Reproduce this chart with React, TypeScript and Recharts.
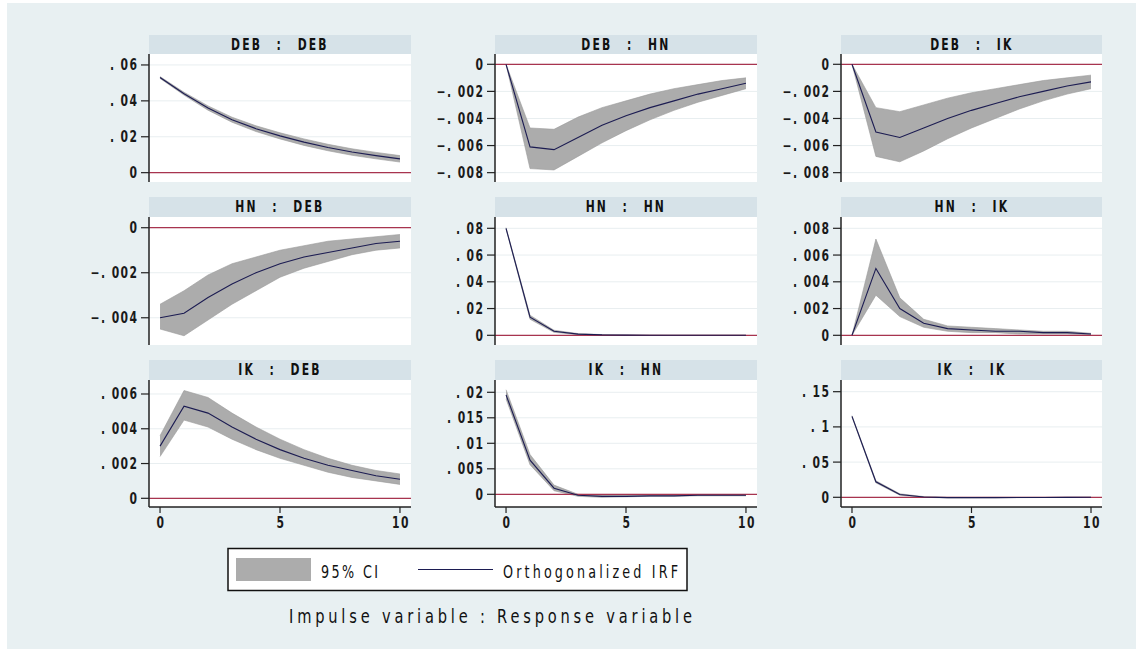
import React from "react";
import {
  ComposedChart,
  Area,
  Line,
  XAxis,
  YAxis,
  CartesianGrid,
  ReferenceLine,
} from "recharts";

// ---------- data ----------
const steps = [0, 1, 2, 3, 4, 5, 6, 7, 8, 9, 10];
const xTicks = [0, 5, 10];
const xTickLabels = ["0", "5", "10"];

const debDebIrf = [0.053, 0.044, 0.036, 0.0295, 0.0245, 0.0205, 0.017, 0.014, 0.0115, 0.0095, 0.0077];
const debDebLo = [0.0525, 0.0432, 0.0348, 0.0281, 0.0229, 0.0188, 0.0152, 0.0122, 0.0097, 0.0077, 0.0059];
const debDebHi = [0.0535, 0.0448, 0.0372, 0.0309, 0.0261, 0.0222, 0.0188, 0.0158, 0.0133, 0.0113, 0.0095];

const debHnIrf = [0, -0.0061, -0.0063, -0.0054, -0.0045, -0.0038, -0.0032, -0.0027, -0.0022, -0.0018, -0.0014];
const debHnLo = [0, -0.0077, -0.0078, -0.0068, -0.0058, -0.0049, -0.0041, -0.0034, -0.0028, -0.0023, -0.0018];
const debHnHi = [0, -0.0047, -0.0048, -0.0039, -0.0032, -0.0027, -0.0022, -0.0018, -0.0015, -0.0012, -0.001];

const debIkIrf = [0, -0.005, -0.0054, -0.0047, -0.004, -0.0034, -0.0029, -0.0024, -0.002, -0.0016, -0.0013];
const debIkLo = [0, -0.0068, -0.0072, -0.0064, -0.0055, -0.0047, -0.004, -0.0033, -0.0027, -0.0022, -0.0018];
const debIkHi = [0, -0.0032, -0.0035, -0.003, -0.0025, -0.0021, -0.0018, -0.0015, -0.0012, -0.001, -0.0008];

const hnDebIrf = [-0.004, -0.0038, -0.0031, -0.0025, -0.002, -0.0016, -0.0013, -0.0011, -0.0009, -0.0007, -0.0006];
const hnDebLo = [-0.0045, -0.0048, -0.0041, -0.0034, -0.0028, -0.0022, -0.0018, -0.0015, -0.0012, -0.001, -0.0009];
const hnDebHi = [-0.0034, -0.0028, -0.0021, -0.0016, -0.0013, -0.001, -0.0008, -0.0006, -0.0005, -0.0004, -0.0003];

const hnHnIrf = [0.08, 0.0135, 0.003, 0.0009, 0.0003, 0.0001, 0, 0, 0, 0, 0];
const hnHnLo = [0.0795, 0.012, 0.0022, 0.0005, 0.0001, 0, 0, 0, 0, 0, 0];
const hnHnHi = [0.0805, 0.015, 0.0038, 0.0013, 0.0005, 0.0002, 0.0001, 0, 0, 0, 0];

const hnIkIrf = [0, 0.005, 0.002, 0.0009, 0.0005, 0.0004, 0.0003, 0.0003, 0.0002, 0.0002, 0.0001];
const hnIkLo = [0, 0.003, 0.0014, 0.0006, 0.0003, 0.0002, 0.0002, 0.0001, 0.0001, 0.0001, 0.00005];
const hnIkHi = [0, 0.0072, 0.0028, 0.0012, 0.0007, 0.0006, 0.0005, 0.0004, 0.0003, 0.0003, 0.00015];

const ikDebIrf = [0.003, 0.0053, 0.0049, 0.0041, 0.0034, 0.0028, 0.0023, 0.0019, 0.0016, 0.0013, 0.0011];
const ikDebLo = [0.0024, 0.0045, 0.0041, 0.0034, 0.0028, 0.0023, 0.0019, 0.0015, 0.0012, 0.001, 0.0008];
const ikDebHi = [0.0036, 0.0062, 0.0058, 0.0049, 0.0041, 0.0034, 0.0028, 0.0023, 0.0019, 0.0016, 0.0014];

const ikHnIrf = [0.0195, 0.0067, 0.0012, -0.0002, -0.0004, -0.0004, -0.0003, -0.0003, -0.0002, -0.0002, -0.0002];
const ikHnLo = [0.0187, 0.0058, 0.0007, -0.0004, -0.0006, -0.0005, -0.0004, -0.0004, -0.0003, -0.0003, -0.0003];
const ikHnHi = [0.0205, 0.0078, 0.0018, 0, -0.0002, -0.0002, -0.0002, -0.0002, -0.0001, -0.0001, -0.0001];

const ikIkIrf = [0.115, 0.022, 0.004, 0.0005, -0.0005, -0.0005, -0.0004, -0.0003, -0.0002, -0.0001, 0];
const ikIkLo = [0.114, 0.0205, 0.003, 0, -0.0009, -0.0008, -0.0007, -0.0005, -0.0003, -0.0002, -0.0001];
const ikIkHi = [0.116, 0.0235, 0.005, 0.001, -0.0001, -0.0002, -0.0001, -0.0001, 0, 0, 0];

const debDebTicks = [0.06, 0.04, 0.02, 0];
const debDebTickLabels = [". 06", ". 04", ". 02", "0"];
const negSmallTicks = [0, -0.002, -0.004, -0.006, -0.008];
const negSmallTickLabels = ["0", "−. 002", "−. 004", "−. 006", "−. 008"];
const hnDebTicks = [0, -0.002, -0.004];
const hnDebTickLabels = ["0", "−. 002", "−. 004"];
const hnHnTicks = [0.08, 0.06, 0.04, 0.02, 0];
const hnHnTickLabels = [". 08", ". 06", ". 04", ". 02", "0"];
const hnIkTicks = [0.008, 0.006, 0.004, 0.002, 0];
const hnIkTickLabels = [". 008", ". 006", ". 004", ". 002", "0"];
const ikDebTicks = [0.006, 0.004, 0.002, 0];
const ikDebTickLabels = [". 006", ". 004", ". 002", "0"];
const ikHnTicks = [0.02, 0.015, 0.01, 0.005, 0];
const ikHnTickLabels = [". 02", ". 015", ". 01", ". 005", "0"];
const ikIkTicks = [0.15, 0.1, 0.05, 0];
const ikIkTickLabels = [". 15", ". 1", ". 05", "0"];

// ---------- layout / style ----------
const PAGE_BG = "#e8f0f2";
const TITLE_BG = "#d6e2e8";
const BAND = "#acacac";
const LINE = "#1c1c52";
const ZERO = "#a8344f";
const GRID = "#e8eef0";
const FONT = "'DejaVu Sans', sans-serif";
const SQUEEZE = 0.72;

const colAxisX = [149, 495, 841];
const colRight = [411, 757, 1102];
const rowTitleTop = [35, 197, 360];
const rowPlotTop = [54, 217, 380];
const rowPlotBottom = [182, 345, 507];
const Y_LABEL_W = 80;
const X_AXIS_H = 32;

type Panel = {
  title: string;
  row: number;
  col: number;
  irf: number[];
  lo: number[];
  hi: number[];
  ticks: number[];
  labels: string[];
  domain: [number, number];
};

const panels: Panel[] = [
  { title: "DEB : DEB", row: 0, col: 0, irf: debDebIrf, lo: debDebLo, hi: debDebHi, ticks: debDebTicks, labels: debDebTickLabels, domain: [-0.0052, 0.0661] },
  { title: "DEB : HN", row: 0, col: 1, irf: debHnIrf, lo: debHnLo, hi: debHnHi, ticks: negSmallTicks, labels: negSmallTickLabels, domain: [-0.00869, 0.00076] },
  { title: "DEB : IK", row: 0, col: 2, irf: debIkIrf, lo: debIkLo, hi: debIkHi, ticks: negSmallTicks, labels: negSmallTickLabels, domain: [-0.00869, 0.00076] },
  { title: "HN : DEB", row: 1, col: 0, irf: hnDebIrf, lo: hnDebLo, hi: hnDebHi, ticks: hnDebTicks, labels: hnDebTickLabels, domain: [-0.00521, 0.000476] },
  { title: "HN : HN", row: 1, col: 1, irf: hnHnIrf, lo: hnHnLo, hi: hnHnHi, ticks: hnHnTicks, labels: hnHnTickLabels, domain: [-0.00725, 0.08845] },
  { title: "HN : IK", row: 1, col: 2, irf: hnIkIrf, lo: hnIkLo, hi: hnIkHi, ticks: hnIkTicks, labels: hnIkTickLabels, domain: [-0.000725, 0.008845] },
  { title: "IK : DEB", row: 2, col: 0, irf: ikDebIrf, lo: ikDebLo, hi: ikDebHi, ticks: ikDebTicks, labels: ikDebTickLabels, domain: [-0.0005, 0.006805] },
  { title: "IK : HN", row: 2, col: 1, irf: ikHnIrf, lo: ikHnLo, hi: ikHnHi, ticks: ikHnTicks, labels: ikHnTickLabels, domain: [-0.00249, 0.02241] },
  { title: "IK : IK", row: 2, col: 2, irf: ikIkIrf, lo: ikIkLo, hi: ikIkHi, ticks: ikIkTicks, labels: ikIkTickLabels, domain: [-0.01378, 0.1666] },
];

const YTick = (labels: string[], ticks: number[]) => (props: any) => {
  const { x, y, payload } = props;
  const i = ticks.findIndex((t) => Math.abs(t - payload.value) < 1e-9);
  const label = i >= 0 ? labels[i] : String(payload.value);
  return (
    <text
      transform={`translate(${x + 1.5},${y + 5.5}) scale(${SQUEEZE},1)`}
      x={0}
      y={0}
      textAnchor="end"
      fontFamily={FONT}
      fontWeight="bold"
      fontSize={15}
      letterSpacing={2}
      fill="#1a1a1a"
    >
      {label}
    </text>
  );
};

const XTick = (props: any) => {
  const { x, y, payload } = props;
  const i = xTicks.indexOf(payload.value);
  return (
    <text
      transform={`translate(${x + 1},${y + 12}) scale(${SQUEEZE},1)`}
      x={0}
      y={0}
      textAnchor="middle"
      fontFamily={FONT}
      fontWeight="bold"
      fontSize={15}
      letterSpacing={2}
      fill="#1a1a1a"
    >
      {i >= 0 ? xTickLabels[i] : payload.value}
    </text>
  );
};

function PanelChart({ p }: { p: Panel }) {
  const data = steps.map((s, i) => ({ step: s, irf: p.irf[i], ci: [p.lo[i], p.hi[i]] }));
  const axisX = colAxisX[p.col];
  const right = colRight[p.col];
  const plotTop = rowPlotTop[p.row];
  const plotH = rowPlotBottom[p.row] - plotTop;
  const isBottom = p.row === 2;
  const width = right - axisX + Y_LABEL_W;
  const height = plotH + (isBottom ? X_AXIS_H : 0);
  const titleH = plotTop - rowTitleTop[p.row];
  return (
    <>
      <div
        style={{
          position: "absolute",
          left: axisX,
          top: rowTitleTop[p.row],
          width: right - axisX,
          height: titleH,
          background: TITLE_BG,
          textAlign: "center",
          lineHeight: `${titleH}px`,
          overflow: "hidden",
        }}
      >
        <span
          style={{
            display: "inline-block",
            transform: `scaleX(${SQUEEZE})`,
            color: "#111",
            fontFamily: FONT,
            fontWeight: "bold",
            fontSize: 15,
            letterSpacing: 3,
            wordSpacing: 12,
            whiteSpace: "nowrap",
          }}
        >
          {p.title}
        </span>
      </div>
      <div style={{ position: "absolute", left: axisX - Y_LABEL_W, top: plotTop }}>
        <ComposedChart
          width={width}
          height={height}
          data={data}
          margin={{ top: 0, right: 0, bottom: 0, left: 0 }}
        >
          <CartesianGrid
            vertical={false}
            horizontal={true}
            fill="#ffffff"
            stroke={GRID}
            horizontalValues={p.ticks}
          />
          <XAxis
            dataKey="step"
            type="number"
            domain={[-0.46, 10.46]}
            allowDataOverflow
            ticks={xTicks}
            interval={0}
            hide={!isBottom}
            height={X_AXIS_H}
            axisLine={{ stroke: "#222", strokeWidth: 1.5 }}
            tickLine={{ stroke: "#222", strokeWidth: 1.2 }}
            tickSize={6}
            tickMargin={3}
            tick={XTick}
          />
          <YAxis
            type="number"
            domain={p.domain}
            allowDataOverflow
            ticks={p.ticks}
            interval={0}
            width={Y_LABEL_W}
            axisLine={{ stroke: "#222", strokeWidth: 1.5 }}
            tickLine={{ stroke: "#222", strokeWidth: 1.2 }}
            tickSize={8}
            tickMargin={4}
            tick={YTick(p.labels, p.ticks)}
          />
          <Area
            dataKey="ci"
            type="linear"
            fill={BAND}
            fillOpacity={1}
            stroke="#9a9a9a"
            strokeWidth={0.6}
            isAnimationActive={false}
            dot={false}
            activeDot={false}
          />
          <ReferenceLine y={0} stroke={ZERO} strokeWidth={1.3} />
          <Line
            dataKey="irf"
            type="linear"
            stroke={LINE}
            strokeWidth={1.1}
            dot={false}
            activeDot={false}
            isAnimationActive={false}
          />
        </ComposedChart>
      </div>
    </>
  );
}

const squeezed = (x: number, y: number, w: number, size: number, text: string) => (
  <text
    transform={`translate(${x},${y}) scale(${0.75},1)`}
    x={0}
    y={0}
    fontFamily={FONT}
    fontSize={size}
    fill="#111"
    textLength={w / 0.75}
    lengthAdjust="spacing"
  >
    {text}
  </text>
);

export default function App() {
  return (
    <div
      style={{
        position: "absolute",
        left: 0,
        top: 0,
        width: 1136,
        height: 649,
        background: "#ffffff",
        overflow: "hidden",
      }}
    >
      <div style={{ position: "absolute", left: 7, top: 3, right: 0, bottom: 0, background: PAGE_BG }} />
      {panels.map((p) => (
        <PanelChart key={p.title} p={p} />
      ))}
      <svg width={1136} height={109} style={{ position: "absolute", left: 0, top: 540 }}>
        <rect x={228} y={8.5} width={459} height={42} fill="#ffffff" stroke="#111" strokeWidth={1.5} />
        <rect x={236} y={18} width={75} height={23} fill={BAND} />
        {squeezed(321, 38, 57, 17, "95% CI")}
        <line x1={418} x2={493} y1={29.5} y2={29.5} stroke={LINE} strokeWidth={1.2} />
        {squeezed(503, 38, 175, 17, "Orthogonalized IRF")}
        {squeezed(289, 83, 403, 19.5, "Impulse variable : Response variable")}
      </svg>
    </div>
  );
}
